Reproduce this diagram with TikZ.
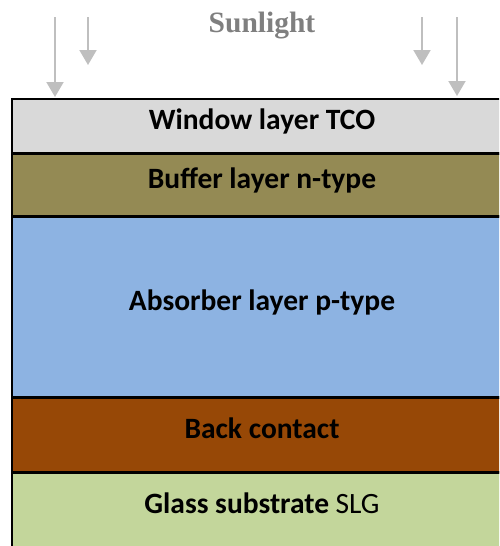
\documentclass[tikz,border=0pt]{standalone}
\usepackage{fontspec}
\setmainfont{Carlito}
\newfontfamily\serifbold{Liberation Serif}
\usetikzlibrary{positioning,arrows.meta}
\definecolor{windowgray}{HTML}{D9D9D9}
\definecolor{bufferolive}{HTML}{948A54}
\definecolor{absorberblue}{HTML}{8DB3E2}
\definecolor{backbrown}{HTML}{974806}
\definecolor{glassgreen}{HTML}{C3D69B}
\definecolor{raygray}{HTML}{BFBFBF}
\definecolor{sungray}{HTML}{7F7F7F}
\begin{document}
\begin{tikzpicture}[x=1pt, y=-1pt,
layer/.style={rectangle, draw=black, line width=2.5pt, outer sep=0pt, inner sep=0pt,
  minimum width=500pt, font=\fontsize{29.5}{32}\selectfont\bfseries,
  text height=17pt, text depth=11pt},
ray/.style={draw=raygray, line width=2pt, -{Triangle[width=17pt, length=15pt]}},
sunlabel/.style={font=\fontsize{29.5}{32}\serifbold\bfseries, text=sungray, inner sep=0pt},
]
\clip (0,0) rectangle (499,546);
\node[sunlabel, anchor=base] (sun) at (262,32) {Sunlight};
\node[layer, fill=windowgray, minimum height=54.5pt, anchor=north west] (window) at (12,99) {Window layer TCO};
\node[layer, fill=bufferolive, minimum height=63pt, below=0pt of window] (buffer) {Buffer layer n-type};
\node[layer, fill=absorberblue, minimum height=181pt, below=0pt of buffer] (absorber) {Absorber layer p-type};
\node[layer, fill=backbrown, minimum height=75pt, below=0pt of absorber] (back) {Back contact};
\node[layer, fill=glassgreen, minimum height=76pt, below=0pt of back] (glass) {Glass substrate \textmd{SLG}};
% incoming light
\foreach \x/\y [count=\i] in {55/97, 88/65, 422/65, 457/96} {
  \coordinate (top\i) at (\x,17);
  \coordinate (tip\i) at (\x,\y);
  \draw[ray] (top\i) -- (tip\i);
}
\end{tikzpicture}
\end{document}
